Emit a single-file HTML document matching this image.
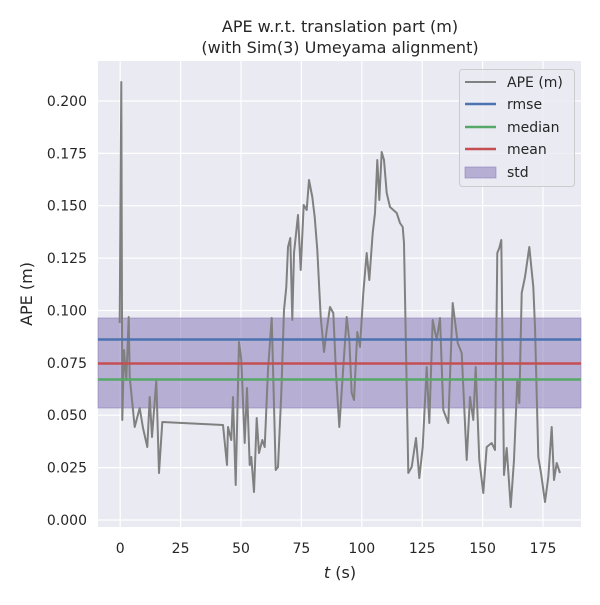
<!DOCTYPE html>
<html><head><style>
body{margin:0;background:#fff;}
svg text{font-family:"DejaVu Sans","Liberation Sans",sans-serif;fill:#262626;}
</style></head><body>
<svg width="600" height="600" xmlns="http://www.w3.org/2000/svg">
<rect x="98" y="61" width="483" height="466" fill="#eaeaf2"/>
<g stroke="#fff" stroke-width="1.2">
<line x1="120.2" y1="61" x2="120.2" y2="527"/><line x1="180.6" y1="61" x2="180.6" y2="527"/><line x1="241" y1="61" x2="241" y2="527"/><line x1="301.4" y1="61" x2="301.4" y2="527"/><line x1="361.8" y1="61" x2="361.8" y2="527"/><line x1="422.2" y1="61" x2="422.2" y2="527"/><line x1="482.6" y1="61" x2="482.6" y2="527"/><line x1="543" y1="61" x2="543" y2="527"/>
<line x1="98" y1="520" x2="581" y2="520"/><line x1="98" y1="467.6" x2="581" y2="467.6"/><line x1="98" y1="415.2" x2="581" y2="415.2"/><line x1="98" y1="362.9" x2="581" y2="362.9"/><line x1="98" y1="310.5" x2="581" y2="310.5"/><line x1="98" y1="258.1" x2="581" y2="258.1"/><line x1="98" y1="205.7" x2="581" y2="205.7"/><line x1="98" y1="153.4" x2="581" y2="153.4"/><line x1="98" y1="101" x2="581" y2="101"/>
</g>
<rect x="98" y="318" width="483" height="90" fill="#8172b3" fill-opacity="0.5" stroke="#8172b3" stroke-opacity="0.5"/>
<polyline fill="none" stroke="#808080" stroke-width="2" stroke-linejoin="round" points="119.7,323 121.3,82 122.3,420 124,350 126.3,380 128.7,317 129.7,377 134.7,427 139.7,408 143,428 147.3,447 149.7,397 152,437 156.3,380 159,473 162.3,422 223,425 227,465 228,427 231.3,440 233,397 235.7,485 239,342 241.3,360 244.7,443 247,388 249.7,465 251.3,457 254,492 256.7,418 259,453 262.3,440 264.7,447 268,370 271.7,318 275.7,470 278,467 281.3,393 284,310 286.3,287 288,247 290.3,238 292.3,320 294,253 298,215 300.7,270 303.7,205 306.7,210 309,180 312.3,197 314.7,217 317.3,250 320.7,317 324,352 326.7,330 330,307 333.3,313 336,373 339.3,427 343.3,367 346.7,317 349.3,340 351.7,393 354,400 357.3,332 360,347 363.3,293 366.7,253 369.3,280 372.7,233 375,213 377.3,160 379.3,200 381.7,152 384,160 386.7,193 390,207 396.7,213 400,223 402.7,227 404,243 408.3,473 411.7,467 416,438 419.3,478 422.7,447 426.7,367 429.3,423 432.7,320 436.7,340 440,318 443.3,410 448.3,423 452.7,303 457.7,343 461.7,353 466.7,460 470,397 473.3,420 475.7,367 479.3,460 483.3,493 486.7,447 491.7,443 495,450 497.3,253 499.3,248 501.3,240 504,475 506.7,448 510.7,507 514,460 517.3,380 519.3,403 521.7,293 525,277 529.3,247 533.3,287 535,327 538.3,457 541,473 545,502 548.3,477 551.7,427 554,480 556.7,463 560,473"/>
<line x1="98" y1="339.5" x2="581" y2="339.5" stroke="#4c72b0" stroke-width="2.5"/>
<line x1="98" y1="379.5" x2="581" y2="379.5" stroke="#55a868" stroke-width="2.5"/>
<line x1="98" y1="363.5" x2="581" y2="363.5" stroke="#c44e52" stroke-width="2.5"/>
<rect x="459.5" y="69.5" width="115" height="117" rx="3" fill="#eaeaf2" fill-opacity="0.8" stroke="#ccc"/>
<line x1="465" y1="82" x2="496" y2="82" stroke="#808080" stroke-width="2"/>
<line x1="465" y1="104" x2="496" y2="104" stroke="#4c72b0" stroke-width="2.5"/>
<line x1="465" y1="127" x2="496" y2="127" stroke="#55a868" stroke-width="2.5"/>
<line x1="465" y1="149" x2="496" y2="149" stroke="#c44e52" stroke-width="2.5"/>
<rect x="465" y="167" width="31" height="11" fill="#8172b3" fill-opacity="0.5" stroke="#8172b3" stroke-opacity="0.5"/>
<g font-size="14"><text x="507" y="87">APE (m)</text><text x="507" y="109">rmse</text><text x="507" y="132">median</text><text x="507" y="154">mean</text><text x="507" y="177">std</text></g>
<g font-size="14" text-anchor="end"><text x="87" y="525">0.000</text><text x="87" y="472.6">0.025</text><text x="87" y="420.2">0.050</text><text x="87" y="367.9">0.075</text><text x="87" y="315.5">0.100</text><text x="87" y="263.1">0.125</text><text x="87" y="210.7">0.150</text><text x="87" y="158.4">0.175</text><text x="87" y="106">0.200</text></g>
<g font-size="14" text-anchor="middle"><text x="120.2" y="553">0</text><text x="180.6" y="553">25</text><text x="241" y="553">50</text><text x="301.4" y="553">75</text><text x="361.8" y="553">100</text><text x="422.2" y="553">125</text><text x="482.6" y="553">150</text><text x="543" y="553">175</text></g>
<text x="340" y="578" font-size="16" text-anchor="middle"><tspan font-style="italic">t</tspan> (s)</text>
<text transform="translate(32,294) rotate(-90)" font-size="16" text-anchor="middle">APE (m)</text>
<text x="340" y="32" font-size="16" text-anchor="middle">APE w.r.t. translation part (m)</text>
<text x="340" y="53" font-size="16" text-anchor="middle">(with Sim(3) Umeyama alignment)</text>
</svg>
</body></html>
